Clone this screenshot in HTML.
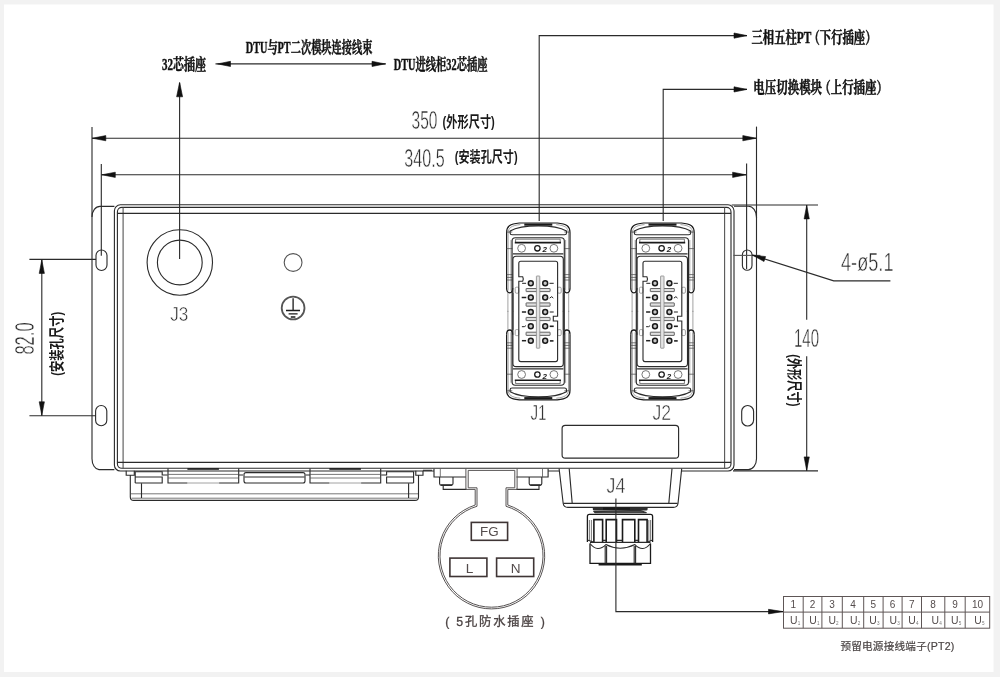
<!DOCTYPE html>
<html lang="zh"><head><meta charset="utf-8"><title>PT</title>
<style>
html,body{margin:0;padding:0;background:#f2f2f2;}
body{width:1000px;height:677px;overflow:hidden;position:relative;}
svg{position:absolute;left:0;top:0;display:block;}
text{filter:saturate(1.001);}
.l{stroke:#2b2b2b;stroke-width:1.12;fill:none;}
.lm{stroke:#555;stroke-width:1.1;fill:none;}
.lt{stroke:#555;stroke-width:.8;fill:none;}
.lg{stroke:#8a8a8a;stroke-width:.8;fill:none;}
.lb{stroke:#1a1a1a;stroke-width:1.5;fill:none;}
.ah{fill:#111;stroke:#111;stroke-width:.6;stroke-linejoin:round;}
.cs{font-family:"Liberation Serif","Noto Serif CJK SC",serif;font-weight:bold;fill:#111;stroke:#111;stroke-width:.45px;}
.ch{font-family:"Liberation Sans","Noto Sans CJK SC",sans-serif;font-weight:bold;fill:#1a1a1a;}
.cad{font-family:"Liberation Sans",sans-serif;fill:#2a2a2a;stroke:#fff;stroke-width:.5px;paint-order:fill stroke;}
.sn{font-family:"Liberation Sans","Noto Sans CJK SC",sans-serif;fill:#544c4c;}
.br{stroke:#3f3535;stroke-width:1.6;fill:none;}
.kh{stroke:#585454;stroke-width:1;fill:none;}
.kh2{stroke:#777;stroke-width:.9;fill:none;}
</style></head><body>
<svg width="1000" height="677" viewBox="0 0 1000 677">
<rect x="0" y="0" width="1000" height="677" fill="#f2f2f2"/>
<rect x="4" y="4.5" width="989.5" height="667.5" fill="#fff"/>

<text class="cs" x="162.00" y="69.80" font-size="16" textLength="44.00" lengthAdjust="spacingAndGlyphs" >32芯插座</text>
<text class="cs" x="245.80" y="52.80" font-size="16" textLength="126.70" lengthAdjust="spacingAndGlyphs" >DTU与PT二次模块连接线束</text>
<text class="cs" x="393.80" y="69.80" font-size="16" textLength="93.70" lengthAdjust="spacingAndGlyphs" >DTU进线柜32芯插座</text>
<line class="l" x1="215.5" y1="63.9" x2="386" y2="63.9"/>
<polygon class="ah" points="217.50,63.90 230.50,61.30 230.50,66.50"/>
<polygon class="ah" points="385.00,63.90 372.00,66.50 372.00,61.30"/>
<text class="cs" x="751.50" y="42.70" font-size="16" textLength="125.00" lengthAdjust="spacingAndGlyphs" >三相五柱PT<tspan dx="-4">（</tspan>下行插座）</text>
<text class="cs" x="753.30" y="92.50" font-size="16" textLength="134.70" lengthAdjust="spacingAndGlyphs" >电压切换模块<tspan dx="-4">（</tspan>上行插座）</text>
<path class="l" d="M539.2,221 V35.6 H747" />
<polygon class="ah" points="747.00,35.60 734.00,38.20 734.00,33.00"/>
<path class="l" d="M663.2,221 V89.4 H747" />
<polygon class="ah" points="747.00,89.40 734.00,92.00 734.00,86.80"/>
<line class="l" x1="179.6" y1="259" x2="179.6" y2="83"/>
<polygon class="ah" points="179.60,82.30 182.60,96.80 176.60,96.80"/>
<line class="l" x1="92" y1="127" x2="92" y2="217"/>
<line class="l" x1="756.5" y1="126.6" x2="756.5" y2="218"/>
<line class="l" x1="92" y1="138.2" x2="756.5" y2="138.2"/>
<polygon class="ah" points="92.30,138.20 105.80,135.60 105.80,140.80"/>
<polygon class="ah" points="756.30,138.20 742.80,140.80 742.80,135.60"/>
<line class="l" x1="101.3" y1="164" x2="101.3" y2="255.7"/>
<line class="l" x1="746.6" y1="163.5" x2="746.6" y2="269"/>
<line class="l" x1="101.3" y1="174.8" x2="746.6" y2="174.8"/>
<polygon class="ah" points="101.80,174.80 115.30,172.20 115.30,177.40"/>
<polygon class="ah" points="746.10,174.80 732.60,177.40 732.60,172.20"/>
<text class="cad" x="411.50" y="129.30" font-size="26.4" textLength="25.90" lengthAdjust="spacingAndGlyphs" >350</text>
<text class="ch" x="442.60" y="127.00" font-size="15" textLength="52.20" lengthAdjust="spacingAndGlyphs" >(外形尺寸)</text>
<text class="cad" x="404.30" y="166.60" font-size="26.4" textLength="40.30" lengthAdjust="spacingAndGlyphs" >340.5</text>
<text class="ch" x="454.80" y="162.40" font-size="15" textLength="62.80" lengthAdjust="spacingAndGlyphs" >(安装孔尺寸)</text>
<path class="l" d="M114.4,206.4 H100 A8,10.4 0 0 0 92,216.8 V458.8 A7.5,10.8 0 0 0 99,469.6 H114.4" />
<path class="l" d="M734,206.2 H748.4 A8.1,11 0 0 1 756.5,217.2 V458.8 A8.1,10.8 0 0 1 748.4,469.6 H734" />
<path class="l" d="M434,471 H120.4 A6,6 0 0 1 114.4,465 V210.8 A6,6 0 0 1 120.4,204.8 H728 A6,6 0 0 1 734,210.8 V465 A6,6 0 0 1 728,471 H681.7 M559.1,471 H548.1" />
<rect class="l" x="117.40" y="207.40" width="613.60" height="260.90" rx="4.5" />
<line class="lm" x1="123.1" y1="207.5" x2="123.1" y2="468.4"/>
<line class="lm" x1="724.6" y1="207.5" x2="724.6" y2="468.4"/>
<line class="l" x1="117.4" y1="213.4" x2="731" y2="213.4"/>
<line class="l" x1="117.4" y1="462.4" x2="731" y2="462.4"/>
<rect class="l" x="96.00" y="250.00" width="11.00" height="20.50" rx="5.5" />
<rect class="l" x="95.60" y="405.50" width="11.20" height="20.30" rx="5.600000000000001" />
<rect class="l" x="742.40" y="250.00" width="9.60" height="20.20" rx="4.800000000000011" />
<rect class="l" x="741.70" y="405.50" width="11.90" height="20.50" rx="5.949999999999989" />
<line class="l" x1="29.4" y1="259.4" x2="96" y2="259.4"/>
<line class="l" x1="29.4" y1="415.8" x2="96" y2="415.8"/>
<line class="l" x1="41.8" y1="259.4" x2="41.8" y2="415.8"/>
<polygon class="ah" points="41.80,259.90 44.40,273.40 39.20,273.40"/>
<polygon class="ah" points="41.80,415.30 39.20,401.80 44.40,401.80"/>
<text class="cad" x="0" y="0" font-size="26.8" textLength="32.20" lengthAdjust="spacingAndGlyphs" transform="translate(33.60 354.60) rotate(-90)" >82.0</text>
<text class="ch" x="0" y="0" font-size="15" textLength="64.00" lengthAdjust="spacingAndGlyphs" transform="translate(61.60 375.80) rotate(-90)" >(安装孔尺寸)</text>
<line class="l" x1="731.7" y1="205" x2="818" y2="205"/>
<line class="l" x1="733" y1="470.9" x2="818" y2="470.9"/>
<line class="lm" x1="733.4" y1="255.4" x2="760.4" y2="255.4"/>
<line class="l" x1="806.7" y1="204.9" x2="806.7" y2="319.7"/>
<line class="l" x1="806.7" y1="356.3" x2="806.7" y2="470.9"/>
<polygon class="ah" points="806.70,205.40 809.30,218.90 804.10,218.90"/>
<polygon class="ah" points="806.70,470.40 804.10,456.90 809.30,456.90"/>
<text class="cad" x="794.00" y="347.30" font-size="26.4" textLength="25.00" lengthAdjust="spacingAndGlyphs" >140</text>
<text class="ch" x="0" y="0" font-size="15" textLength="52.20" lengthAdjust="spacingAndGlyphs" transform="translate(789.40 354.20) rotate(90)" >(外形尺寸)</text>
<text class="cad" x="841.00" y="270.90" font-size="25.6" textLength="52.50" lengthAdjust="spacingAndGlyphs" >4-ø5.1</text>
<path class="l" d="M890.4,280.9 H833.7 L752.4,255.1" />
<polygon class="ah" points="752.40,255.10 765.58,256.55 764.00,261.51"/>
<circle class="l" cx="179.8" cy="262.5" r="32.7" />
<circle class="l" cx="179.8" cy="262.5" r="22.4" />
<text class="cad" x="170.30" y="320.90" font-size="21" textLength="18.10" lengthAdjust="spacingAndGlyphs" >J3</text>
<circle class="lm" cx="293.1" cy="262.5" r="8.9" />
<circle class="l" cx="293.1" cy="308" r="11.4" style="stroke:#555;stroke-width:1.8"/>
<path class="lb" d="M293.1,298.3 V310.5 M286,310.5 H300 M288.6,313.8 H297.6 M290.8,317 H295.4" style="stroke-width:1.3"/>
<g transform="translate(538.3 0)">
<path class="lb" d="M-31.7,288 V232.5 C-31.7,226.5 -28.5,223.8 -19,223 H19 C28.5,223.8 31.7,226.5 31.7,232.5 V288" style="stroke-width:1.2"/>
<path class="lg" d="M-30.2,233 C-30,228 -27,225.4 -18,224.6 M30.2,233 C30,228 27,225.4 18,224.6" />
<path class="lb" d="M-31.7,288 Q-31.7,292.8 -28.6,292.8 Q-25.6,292.8 -25.6,288 M31.7,288 Q31.7,292.8 28.6,292.8 Q25.6,292.8 25.6,288" style="stroke-width:1.3"/>
<path class="lg" d="M-30.2,232 V290.5 M30.2,232 V290.5 M-27.3,240 V290.5 M27.3,240 V290.5" />
<path class="lt" d="M-31.7,232 H-26 M26,232 H31.7 M-31.7,248.6 H-26 M26,248.6 H31.7 M-31.5,274.6 H-25.8 M25.8,274.6 H31.5 M-31.5,277.4 H-25.8 M25.8,277.4 H31.5 M-31.5,280 H-25.8 M25.8,280 H31.5" />
<path class="l" d="M-26.2,234.8 H26.2 Q28.2,234.8 28.2,233 V231 C22,227.4 14,225.9 0,225.9 C-14,225.9 -22,227.4 -28.2,231 V233 Q-28.2,234.8 -26.2,234.8 Z" />
<path class="lb" d="M-14,224.6 H14" style="stroke-width:2.2"/>
<path class="lt" d="M-22.7,242.4 V239.2 H21.9 V242.4" />
<path class="lb" d="M-23.5,242.6 H22.7" style="stroke-width:1.6"/>
<circle class="lt" cx="-16.7" cy="248.3" r="3.9" />
<circle class="lt" cx="15.6" cy="248.3" r="3.9" />
<circle class="lb" cx="-0.9" cy="248.3" r="2.7" style="stroke-width:1.3"/>
<path class="l" d="M-25.4,253.9 H25" />
<rect class="lg" x="-23.10" y="287.20" width="3.60" height="6.00" rx="1.2" />
<rect class="lg" x="19.30" y="287.20" width="3.60" height="6.00" rx="1.2" />
<path class="lg" d="M-30.4,293 V312 M-24.8,293 V312 M30.4,293 V312 M24.8,293 V312" />
<g transform="translate(0 622.8) scale(1 -1)">
<path class="lb" d="M-31.7,288 V232.5 C-31.7,226.5 -28.5,223.8 -19,223 H19 C28.5,223.8 31.7,226.5 31.7,232.5 V288" style="stroke-width:1.2"/>
<path class="lg" d="M-30.2,233 C-30,228 -27,225.4 -18,224.6 M30.2,233 C30,228 27,225.4 18,224.6" />
<path class="lb" d="M-31.7,288 Q-31.7,292.8 -28.6,292.8 Q-25.6,292.8 -25.6,288 M31.7,288 Q31.7,292.8 28.6,292.8 Q25.6,292.8 25.6,288" style="stroke-width:1.3"/>
<path class="lg" d="M-30.2,232 V290.5 M30.2,232 V290.5 M-27.3,240 V290.5 M27.3,240 V290.5" />
<path class="lt" d="M-31.7,232 H-26 M26,232 H31.7 M-31.7,248.6 H-26 M26,248.6 H31.7 M-31.5,274.6 H-25.8 M25.8,274.6 H31.5 M-31.5,277.4 H-25.8 M25.8,277.4 H31.5 M-31.5,280 H-25.8 M25.8,280 H31.5" />
<path class="l" d="M-26.2,234.8 H26.2 Q28.2,234.8 28.2,233 V231 C22,227.4 14,225.9 0,225.9 C-14,225.9 -22,227.4 -28.2,231 V233 Q-28.2,234.8 -26.2,234.8 Z" />
<path class="lb" d="M-14,224.6 H14" style="stroke-width:2.2"/>
<path class="lt" d="M-22.7,242.4 V239.2 H21.9 V242.4" />
<path class="lb" d="M-23.5,242.6 H22.7" style="stroke-width:1.6"/>
<circle class="lt" cx="-16.7" cy="248.3" r="3.9" />
<circle class="lt" cx="15.6" cy="248.3" r="3.9" />
<circle class="lb" cx="-0.9" cy="248.3" r="2.7" style="stroke-width:1.3"/>
<path class="l" d="M-25.4,253.9 H25" />
<rect class="lg" x="-23.10" y="287.20" width="3.60" height="6.00" rx="1.2" />
<rect class="lg" x="19.30" y="287.20" width="3.60" height="6.00" rx="1.2" />
<path class="lg" d="M-30.4,293 V312 M-24.8,293 V312 M30.4,293 V312 M24.8,293 V312" />
</g>
<rect class="l" x="-26.20" y="237.80" width="52.20" height="147.40" rx="3.2" />
<rect class="l" x="-25.40" y="256.30" width="50.40" height="110.30" rx="3.2" />
<path class="l" d="M-17.5,261.3 H17.3 Q19.3,261.3 19.3,263.3 V316.2 H15 V321 H19.3 V359.6 Q19.3,361.6 17.3,361.6 H-17.5 Q-19.5,361.6 -19.5,359.6 V281.2 H-15.6 Q-14.4,279 -15.6,276.8 H-19.5 V263.3 Q-19.5,261.3 -17.5,261.3 Z" />
<rect class="lg" x="-12.20" y="288.50" width="24.00" height="3.10" rx="0.3" style="fill:#e0e0e0;stroke:#555;stroke-width:.9"/>
<rect class="lg" x="-12.20" y="302.90" width="24.00" height="3.30" rx="0.3" style="fill:#e0e0e0;stroke:#555;stroke-width:.9"/>
<rect class="lg" x="-12.20" y="317.40" width="24.00" height="3.20" rx="0.3" style="fill:#e0e0e0;stroke:#555;stroke-width:.9"/>
<rect class="lg" x="-12.20" y="332.20" width="24.00" height="3.20" rx="0.3" style="fill:#e0e0e0;stroke:#555;stroke-width:.9"/>
<rect class="lg" x="-1.90" y="276.00" width="3.40" height="72.20" rx="0.4" style="fill:#e4e4e4;stroke:#888"/>
<circle class="lb" cx="-7.5" cy="283.3" r="2.45" style="stroke-width:1.5;fill:#c8c8c8"/>
<circle class="lb" cx="6.9" cy="283.3" r="2.45" style="stroke-width:1.5;fill:#c8c8c8"/>
<path d="M-16.2,0 H-12.2" transform="translate(0 283.3)" stroke="#222" stroke-width="1" fill="none"/>
<path d="M11.2,0 H15.4" transform="translate(0 283.3)" stroke="#222" stroke-width="1" fill="none"/>
<circle class="lb" cx="-7.5" cy="297.5" r="2.45" style="stroke-width:1.5;fill:#c8c8c8"/>
<circle class="lb" cx="6.9" cy="297.5" r="2.45" style="stroke-width:1.5;fill:#c8c8c8"/>
<path d="M-16.6,0 H-12" transform="translate(0 297.5)" stroke="#222" stroke-width="1.5" fill="none"/>
<path d="M11.4,0.6 L13.4,-0.8 L15,0.6" transform="translate(0 297.5)" stroke="#222" stroke-width="1" fill="none"/>
<circle class="lb" cx="-7.5" cy="312" r="2.45" style="stroke-width:1.5;fill:#c8c8c8"/>
<circle class="lb" cx="6.9" cy="312" r="2.45" style="stroke-width:1.5;fill:#c8c8c8"/>
<path d="M-16.4,0 H-12.2" transform="translate(0 312)" stroke="#222" stroke-width="1.5" fill="none"/>
<path d="M11.4,0 H15.4" transform="translate(0 312)" stroke="#222" stroke-width="1" fill="none"/>
<circle class="lb" cx="-7.5" cy="326.3" r="2.45" style="stroke-width:1.5;fill:#c8c8c8"/>
<circle class="lb" cx="6.9" cy="326.3" r="2.45" style="stroke-width:1.5;fill:#c8c8c8"/>
<path d="M-16.4,0.4 L-14,0.4 L-12.4,-0.6" transform="translate(0 326.3)" stroke="#222" stroke-width="1" fill="none"/>
<path d="M11.4,0 H15.4" transform="translate(0 326.3)" stroke="#222" stroke-width="1.6" fill="none"/>
<circle class="lb" cx="-7.5" cy="340.7" r="2.45" style="stroke-width:1.5;fill:#c8c8c8"/>
<circle class="lb" cx="6.9" cy="340.7" r="2.45" style="stroke-width:1.5;fill:#c8c8c8"/>
<path d="M-16.4,0 H-12.2" transform="translate(0 340.7)" stroke="#222" stroke-width="1.5" fill="none"/>
<path d="M11.6,0.2 H15.2" transform="translate(0 340.7)" stroke="#222" stroke-width="1.6" fill="none"/>
<text x="4.2" y="251.5" font-size="8" font-family="Liberation Sans,sans-serif" font-weight="bold" font-style="italic" fill="#222">2</text>
<text x="4.2" y="378.5" font-size="8" font-family="Liberation Sans,sans-serif" font-weight="bold" font-style="italic" fill="#222">2</text>
</g>
<g transform="translate(662.5 0)">
<path class="lb" d="M-31.7,288 V232.5 C-31.7,226.5 -28.5,223.8 -19,223 H19 C28.5,223.8 31.7,226.5 31.7,232.5 V288" style="stroke-width:1.2"/>
<path class="lg" d="M-30.2,233 C-30,228 -27,225.4 -18,224.6 M30.2,233 C30,228 27,225.4 18,224.6" />
<path class="lb" d="M-31.7,288 Q-31.7,292.8 -28.6,292.8 Q-25.6,292.8 -25.6,288 M31.7,288 Q31.7,292.8 28.6,292.8 Q25.6,292.8 25.6,288" style="stroke-width:1.3"/>
<path class="lg" d="M-30.2,232 V290.5 M30.2,232 V290.5 M-27.3,240 V290.5 M27.3,240 V290.5" />
<path class="lt" d="M-31.7,232 H-26 M26,232 H31.7 M-31.7,248.6 H-26 M26,248.6 H31.7 M-31.5,274.6 H-25.8 M25.8,274.6 H31.5 M-31.5,277.4 H-25.8 M25.8,277.4 H31.5 M-31.5,280 H-25.8 M25.8,280 H31.5" />
<path class="l" d="M-26.2,234.8 H26.2 Q28.2,234.8 28.2,233 V231 C22,227.4 14,225.9 0,225.9 C-14,225.9 -22,227.4 -28.2,231 V233 Q-28.2,234.8 -26.2,234.8 Z" />
<path class="lb" d="M-14,224.6 H14" style="stroke-width:2.2"/>
<path class="lt" d="M-22.7,242.4 V239.2 H21.9 V242.4" />
<path class="lb" d="M-23.5,242.6 H22.7" style="stroke-width:1.6"/>
<circle class="lt" cx="-16.7" cy="248.3" r="3.9" />
<circle class="lt" cx="15.6" cy="248.3" r="3.9" />
<circle class="lb" cx="-0.9" cy="248.3" r="2.7" style="stroke-width:1.3"/>
<path class="l" d="M-25.4,253.9 H25" />
<rect class="lg" x="-23.10" y="287.20" width="3.60" height="6.00" rx="1.2" />
<rect class="lg" x="19.30" y="287.20" width="3.60" height="6.00" rx="1.2" />
<path class="lg" d="M-30.4,293 V312 M-24.8,293 V312 M30.4,293 V312 M24.8,293 V312" />
<g transform="translate(0 622.8) scale(1 -1)">
<path class="lb" d="M-31.7,288 V232.5 C-31.7,226.5 -28.5,223.8 -19,223 H19 C28.5,223.8 31.7,226.5 31.7,232.5 V288" style="stroke-width:1.2"/>
<path class="lg" d="M-30.2,233 C-30,228 -27,225.4 -18,224.6 M30.2,233 C30,228 27,225.4 18,224.6" />
<path class="lb" d="M-31.7,288 Q-31.7,292.8 -28.6,292.8 Q-25.6,292.8 -25.6,288 M31.7,288 Q31.7,292.8 28.6,292.8 Q25.6,292.8 25.6,288" style="stroke-width:1.3"/>
<path class="lg" d="M-30.2,232 V290.5 M30.2,232 V290.5 M-27.3,240 V290.5 M27.3,240 V290.5" />
<path class="lt" d="M-31.7,232 H-26 M26,232 H31.7 M-31.7,248.6 H-26 M26,248.6 H31.7 M-31.5,274.6 H-25.8 M25.8,274.6 H31.5 M-31.5,277.4 H-25.8 M25.8,277.4 H31.5 M-31.5,280 H-25.8 M25.8,280 H31.5" />
<path class="l" d="M-26.2,234.8 H26.2 Q28.2,234.8 28.2,233 V231 C22,227.4 14,225.9 0,225.9 C-14,225.9 -22,227.4 -28.2,231 V233 Q-28.2,234.8 -26.2,234.8 Z" />
<path class="lb" d="M-14,224.6 H14" style="stroke-width:2.2"/>
<path class="lt" d="M-22.7,242.4 V239.2 H21.9 V242.4" />
<path class="lb" d="M-23.5,242.6 H22.7" style="stroke-width:1.6"/>
<circle class="lt" cx="-16.7" cy="248.3" r="3.9" />
<circle class="lt" cx="15.6" cy="248.3" r="3.9" />
<circle class="lb" cx="-0.9" cy="248.3" r="2.7" style="stroke-width:1.3"/>
<path class="l" d="M-25.4,253.9 H25" />
<rect class="lg" x="-23.10" y="287.20" width="3.60" height="6.00" rx="1.2" />
<rect class="lg" x="19.30" y="287.20" width="3.60" height="6.00" rx="1.2" />
<path class="lg" d="M-30.4,293 V312 M-24.8,293 V312 M30.4,293 V312 M24.8,293 V312" />
</g>
<rect class="l" x="-26.20" y="237.80" width="52.20" height="147.40" rx="3.2" />
<rect class="l" x="-25.40" y="256.30" width="50.40" height="110.30" rx="3.2" />
<path class="l" d="M-17.5,261.3 H17.3 Q19.3,261.3 19.3,263.3 V316.2 H15 V321 H19.3 V359.6 Q19.3,361.6 17.3,361.6 H-17.5 Q-19.5,361.6 -19.5,359.6 V281.2 H-15.6 Q-14.4,279 -15.6,276.8 H-19.5 V263.3 Q-19.5,261.3 -17.5,261.3 Z" />
<rect class="lg" x="-12.20" y="288.50" width="24.00" height="3.10" rx="0.3" style="fill:#e0e0e0;stroke:#555;stroke-width:.9"/>
<rect class="lg" x="-12.20" y="302.90" width="24.00" height="3.30" rx="0.3" style="fill:#e0e0e0;stroke:#555;stroke-width:.9"/>
<rect class="lg" x="-12.20" y="317.40" width="24.00" height="3.20" rx="0.3" style="fill:#e0e0e0;stroke:#555;stroke-width:.9"/>
<rect class="lg" x="-12.20" y="332.20" width="24.00" height="3.20" rx="0.3" style="fill:#e0e0e0;stroke:#555;stroke-width:.9"/>
<rect class="lg" x="-1.90" y="276.00" width="3.40" height="72.20" rx="0.4" style="fill:#e4e4e4;stroke:#888"/>
<circle class="lb" cx="-7.5" cy="283.3" r="2.45" style="stroke-width:1.5;fill:#c8c8c8"/>
<circle class="lb" cx="6.9" cy="283.3" r="2.45" style="stroke-width:1.5;fill:#c8c8c8"/>
<path d="M-16.2,0 H-12.2" transform="translate(0 283.3)" stroke="#222" stroke-width="1" fill="none"/>
<path d="M11.2,0 H15.4" transform="translate(0 283.3)" stroke="#222" stroke-width="1" fill="none"/>
<circle class="lb" cx="-7.5" cy="297.5" r="2.45" style="stroke-width:1.5;fill:#c8c8c8"/>
<circle class="lb" cx="6.9" cy="297.5" r="2.45" style="stroke-width:1.5;fill:#c8c8c8"/>
<path d="M-16.6,0 H-12" transform="translate(0 297.5)" stroke="#222" stroke-width="1.5" fill="none"/>
<path d="M11.4,0.6 L13.4,-0.8 L15,0.6" transform="translate(0 297.5)" stroke="#222" stroke-width="1" fill="none"/>
<circle class="lb" cx="-7.5" cy="312" r="2.45" style="stroke-width:1.5;fill:#c8c8c8"/>
<circle class="lb" cx="6.9" cy="312" r="2.45" style="stroke-width:1.5;fill:#c8c8c8"/>
<path d="M-16.4,0 H-12.2" transform="translate(0 312)" stroke="#222" stroke-width="1.5" fill="none"/>
<path d="M11.4,0 H15.4" transform="translate(0 312)" stroke="#222" stroke-width="1" fill="none"/>
<circle class="lb" cx="-7.5" cy="326.3" r="2.45" style="stroke-width:1.5;fill:#c8c8c8"/>
<circle class="lb" cx="6.9" cy="326.3" r="2.45" style="stroke-width:1.5;fill:#c8c8c8"/>
<path d="M-16.4,0.4 L-14,0.4 L-12.4,-0.6" transform="translate(0 326.3)" stroke="#222" stroke-width="1" fill="none"/>
<path d="M11.4,0 H15.4" transform="translate(0 326.3)" stroke="#222" stroke-width="1.6" fill="none"/>
<circle class="lb" cx="-7.5" cy="340.7" r="2.45" style="stroke-width:1.5;fill:#c8c8c8"/>
<circle class="lb" cx="6.9" cy="340.7" r="2.45" style="stroke-width:1.5;fill:#c8c8c8"/>
<path d="M-16.4,0 H-12.2" transform="translate(0 340.7)" stroke="#222" stroke-width="1.5" fill="none"/>
<path d="M11.6,0.2 H15.2" transform="translate(0 340.7)" stroke="#222" stroke-width="1.6" fill="none"/>
<text x="4.2" y="251.5" font-size="8" font-family="Liberation Sans,sans-serif" font-weight="bold" font-style="italic" fill="#222">2</text>
<text x="4.2" y="378.5" font-size="8" font-family="Liberation Sans,sans-serif" font-weight="bold" font-style="italic" fill="#222">2</text>
</g>
<text class="cad" x="530.40" y="419.80" font-size="21.6" textLength="16.20" lengthAdjust="spacingAndGlyphs" >J1</text>
<text class="cad" x="652.40" y="419.80" font-size="21.6" textLength="18.60" lengthAdjust="spacingAndGlyphs" >J2</text>
<rect class="l" x="562.10" y="425.40" width="116.50" height="32.80" rx="3.2" style="stroke-width:1.15"/>
<path class="l" d="M126.2,470.8 V475.2 H134.3 V470.8" />
<path class="l" d="M415.8,470.8 V475.2 H423 V470.8" />
<path class="l" d="M423,470.3 H432" />
<path class="l" d="M130.3,475 V497 Q130.3,500.4 133.8,500.4 H415 Q418.5,500.4 418.5,497 V475" />
<path class="lt" d="M131,493.8 H418 M131.5,498.2 H417.5" />
<path class="l" d="M141.5,483.2 V498 M408.6,483.2 V498" />
<path class="l" d="M135.2,483 V471.8 H162.2 V475 H167.6 M135.2,477 H162.2 V483 H135.2" />
<path class="l" d="M413.6,483 V471.8 H386.6 V475 H381.2 M413.6,477 H386.6 V483 H413.6" />
<path class="l" d="M168,468.6 V483 H187.4 M219.1,483 H238.7 V468.6" />
<path class="lg" d="M187.4,483 H219.1" />
<path class="lt" d="M168,474.4 H238.7 M168,478 H238.7" />
<path class="lb" d="M187.4,469 H218.89999999999998" style="stroke-width:1.6"/>
<path class="l" d="M310,468.6 V483 H329.4 M361.09999999999997,483 H380.7 V468.6" />
<path class="lg" d="M329.4,483 H361.09999999999997" />
<path class="lt" d="M310,474.4 H380.7 M310,478 H380.7" />
<path class="lb" d="M329.4,469 H360.9" style="stroke-width:1.6"/>
<path class="l" d="M238.7,475 H243 M305.6,475 H310" />
<rect class="l" x="244.00" y="472.60" width="61.00" height="10.40" rx="2" />
<path class="l" d="M244.5,477 H304.5" />
<path class="l" d="M434,468.8 V477 H466 M434.3,477 H439.6 M516.4,477 H548.1 V468.8" />
<path class="lt" d="M440.3,468.8 V477 M542.5,468.8 V477" />
<path class="l" d="M439.6,477 V483.4 Q439.6,485.2 441.4,485.2 H451.2 Q453,485.2 453,483.4 V477" />
<path class="lb" d="M440.6,485 H452" style="stroke-width:1.4"/>
<path class="l" d="M443.2,485.6 V489.4 H466.6" />
<path class="l" d="M529.2,477 V483.4 Q529.2,485.2 531,485.2 H540 Q541.8,485.2 541.8,483.4 V477" />
<path class="lb" d="M530.2,485 H540.8" style="stroke-width:1.4"/>
<path class="l" d="M539,485.6 V489.4 H516" />
<path class="kh" d="M465.90,468.8 V489.4 H475.20 V505.06 A53.2,53.2 0 1 0 507.80,505.06 V489.4 H517.10 V468.8" />
<path class="kh" d="M468.20,470.4 V487.8 H477.00 V506.28 A51.5,51.5 0 1 0 506.00,506.28 V487.8 H514.80 V470.4" />
<path class="kh" d="M468.2,470.4 H514.8" />
<rect class="br" x="471.30" y="522.40" width="36.30" height="17.90" rx="0" />
<rect class="br" x="449.90" y="558.10" width="37.00" height="18.40" rx="0" />
<rect class="br" x="496.60" y="558.10" width="37.10" height="18.40" rx="0" />
<text class="sn" x="489.4" y="536.1" font-size="13.4" text-anchor="middle">FG</text>
<text class="sn" x="469.6" y="572.6" font-size="13.6" text-anchor="middle">L</text>
<text class="sn" x="515.6" y="572.6" font-size="13.6" text-anchor="middle">N</text>
<text class="sn" x="445.2" y="625.6" font-size="12.3" textLength="99.6" lengthAdjust="spacing" style="fill:#4a4242;stroke:#4a4242;stroke-width:.3px">( 5孔防水插座 )</text>
<path class="l" d="M559.1,468.6 L563.2,503.5 Q563.8,507.4 567.8,507.4 H673.4 Q677.4,507.4 678,503.5 L681.7,468.6" />
<path class="l" d="M569.2,468.6 L572.2,503.4 M672,468.6 L668.8,503.4 M563.4,503.4 H677.6" />
<text class="cad" x="606.60" y="493.10" font-size="21.8" textLength="18.80" lengthAdjust="spacingAndGlyphs" >J4</text>
<rect class="l" x="593.30" y="507.60" width="53.80" height="2.40" rx="1" style="fill:#333"/>
<path class="l" d="M594,511.6 L640,510.4 L646.6,512.8 H595 Z" style="fill:#555;stroke:#333"/>
<path class="lb" d="M603,508.6 H630" style="stroke-width:2.4"/>
<path class="lb" d="M587.4,542 V516.4 Q587.4,514.4 589.4,514.4 H650.6 Q652.6,514.4 652.6,516.4 V542" style="stroke-width:1.3"/>
<path class="lb" d="M593.9,542.2 V519.6 H602.6 V542.2" style="stroke-width:1.6"/>
<path class="lb" d="M606.2,542.2 V519.6 H616.5 V542.2" style="stroke-width:1.6"/>
<path class="lb" d="M622.5,542.2 V519.6 H634.8 V542.2" style="stroke-width:1.6"/>
<path class="lb" d="M638.5,542.2 V519.6 H647.1 V542.2" style="stroke-width:1.6"/>
<path class="lt" d="M589.4,520 V541 M591.4,520 V541 M650.6,520 V541 M648.8,520 V541" />
<path class="l" d="M587.4,540 L593.9,542.2 M602.6,540.4 H606.2 M616.5,540.4 H622.5 M634.8,540.4 H638.5 M647.1,542.2 L652.6,540" />
<path class="lb" d="M590,543.5 V563.4 H650.5 V543.5" style="stroke-width:1.3"/>
<path class="l" d="M605.2,546 V563.4 M606.6,546 V563.4 M634.2,546 V563.4 M635.6,546 V563.4" />
<path class="l" d="M590,543.5 Q597.5,553 605.9,544.6 Q620,552 634.9,544.6 Q643,553 650.5,543.5" />
<path class="l" d="M590,542.4 H650.5" />
<path class="lb" d="M598.6,564.6 H641.8" style="stroke-width:1.6"/>
<path class="l" d="M615.9,498.6 V611.6 H783" />
<polygon class="ah" points="783.00,611.60 768.50,613.90 768.50,609.30"/>
<g stroke="#5e5656" stroke-width="1" fill="none">
<rect x="783.5" y="596.5" width="206.2" height="31.7"/>
<line x1="783.5" y1="612.1" x2="989.7" y2="612.1"/>
<line x1="803.2" y1="596.5" x2="803.2" y2="628.2"/>
<line x1="821.9" y1="596.5" x2="821.9" y2="628.2"/>
<line x1="842.3" y1="596.5" x2="842.3" y2="628.2"/>
<line x1="863.7" y1="596.5" x2="863.7" y2="628.2"/>
<line x1="883.1" y1="596.5" x2="883.1" y2="628.2"/>
<line x1="902.1" y1="596.5" x2="902.1" y2="628.2"/>
<line x1="921.5" y1="596.5" x2="921.5" y2="628.2"/>
<line x1="944.8" y1="596.5" x2="944.8" y2="628.2"/>
<line x1="965.2" y1="596.5" x2="965.2" y2="628.2"/>
</g>
<text class="sn" x="793.4" y="608" font-size="10" text-anchor="middle" fill="#444">1</text>
<text class="sn" x="790.0" y="623.6" font-size="10.4">U<tspan font-size="4.6" dy="1.2" dx="0.2" fill="#777">1</tspan></text>
<text class="sn" x="812.5" y="608" font-size="10" text-anchor="middle" fill="#444">2</text>
<text class="sn" x="809.2" y="623.6" font-size="10.4">U<tspan font-size="4.6" dy="1.2" dx="0.2" fill="#777">1</tspan></text>
<text class="sn" x="832.1" y="608" font-size="10" text-anchor="middle" fill="#444">3</text>
<text class="sn" x="828.4" y="623.6" font-size="10.4">U<tspan font-size="4.6" dy="1.2" dx="0.2" fill="#777">2</tspan></text>
<text class="sn" x="853.0" y="608" font-size="10" text-anchor="middle" fill="#444">4</text>
<text class="sn" x="850.0" y="623.6" font-size="10.4">U<tspan font-size="4.6" dy="1.2" dx="0.2" fill="#777">2</tspan></text>
<text class="sn" x="873.4" y="608" font-size="10" text-anchor="middle" fill="#444">5</text>
<text class="sn" x="869.2" y="623.6" font-size="10.4">U<tspan font-size="4.6" dy="1.2" dx="0.2" fill="#777">3</tspan></text>
<text class="sn" x="892.6" y="608" font-size="10" text-anchor="middle" fill="#444">6</text>
<text class="sn" x="889.6" y="623.6" font-size="10.4">U<tspan font-size="4.6" dy="1.2" dx="0.2" fill="#777">3</tspan></text>
<text class="sn" x="911.8" y="608" font-size="10" text-anchor="middle" fill="#444">7</text>
<text class="sn" x="908.2" y="623.6" font-size="10.4">U<tspan font-size="4.6" dy="1.2" dx="0.2" fill="#777">4</tspan></text>
<text class="sn" x="933.1" y="608" font-size="10" text-anchor="middle" fill="#444">8</text>
<text class="sn" x="931.6" y="623.6" font-size="10.4">U<tspan font-size="4.6" dy="1.2" dx="0.2" fill="#777">4</tspan></text>
<text class="sn" x="955.0" y="608" font-size="10" text-anchor="middle" fill="#444">9</text>
<text class="sn" x="951.0" y="623.6" font-size="10.4">U<tspan font-size="4.6" dy="1.2" dx="0.2" fill="#777">5</tspan></text>
<text class="sn" x="977.5" y="608" font-size="10" text-anchor="middle" fill="#444">10</text>
<text class="sn" x="974.2" y="623.6" font-size="10.4">U<tspan font-size="4.6" dy="1.2" dx="0.2" fill="#777">5</tspan></text>
<text class="sn" x="840.4" y="650.4" font-size="10.6" textLength="114" lengthAdjust="spacing" style="fill:#4a4444;stroke:#4a4444;stroke-width:.2px">预留电源接线端子(PT2)</text>
</svg></body></html>
